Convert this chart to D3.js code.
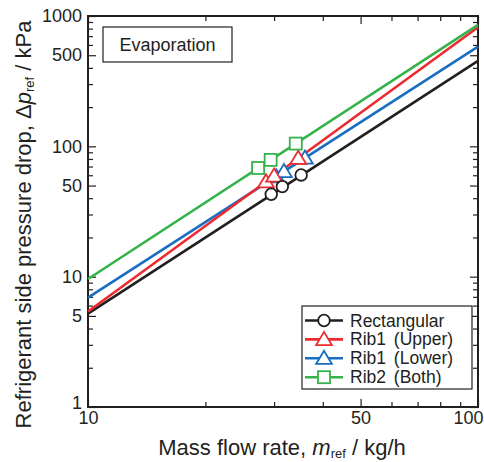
<!DOCTYPE html>
<html>
<head>
<meta charset="utf-8">
<script src="https://cdn.jsdelivr.net/npm/d3@7"></script>
<style>
  body { margin: 0; background: #fff; }
  svg text { font-family: "Liberation Sans", Arial, sans-serif; fill: #231f20; }
</style>
</head>
<body>
<div id="chart"></div>
<script>
// series names, colours and marker kinds
let seriesNames = ["Rectangular", "Rib1 (Upper)", "Rib1 (Lower)", "Rib2 (Both)"]
let seriesColors = ["#231f20", "#ec2a2f", "#1a6ec2", "#35b34a"]
let seriesMarkers = ["circle", "triangle", "triangle", "square"]

// fitted lines: pressure drop at 10 and 100 kg/h
let lineFlow = [10, 100]
let lineRect = [5.2, 452]
let lineUpper = [5.4, 820]
let lineLower = [6.9, 582]
let lineBoth = [9.6, 855]

// measured points
let flowRect = [29.5, 31.5, 35.2]
let dpRect = [42.9, 49.1, 60.3]
let flowUpper = [28.6, 30.0, 34.6]
let dpUpper = [53.5, 59.3, 81.1]
let flowLower = [30.4, 31.8, 36.0]
let dpLower = [58.5, 64.1, 81.3]
let flowBoth = [27.3, 29.4, 34.1]
let dpBoth = [68.2, 78.7, 105]

let xMajor = [10, 50, 100]
let xMinor = [20, 30, 40, 60, 70, 80, 90]
let yMajor = [1, 5, 10, 50, 100, 500, 1000]
let yMinor = [2, 3, 4, 6, 7, 8, 9, 20, 30, 40, 60, 70, 80, 90, 200, 300, 400, 600, 700, 800, 900]

let lines = [lineRect, lineUpper, lineLower, lineBoth]
let flows = [flowRect, flowUpper, flowLower, flowBoth]
let dps = [dpRect, dpUpper, dpLower, dpBoth]

let margin = {top: 16, right: 6, bottom: 55, left: 88}
let width = 484 - margin.left - margin.right
let height = 462 - margin.top - margin.bottom

let svg = d3.select("#chart").append("svg")
    .attr("width", 484)
    .attr("height", 462)
  .append("g")
    .attr("transform", `translate(${margin.left}, ${margin.top})`)

let x = d3.scaleLog().domain([10, 100]).range([0, width])
let y = d3.scaleLog().domain([1, 1000]).range([height, 0])

// inward ticks on all four sides
function ticks(axisFn, vals, size, labels, pad) {
    return axisFn.tickValues(vals).tickSize(-size).tickPadding(pad)
        .tickFormat(labels ? d3.format("d") : "")
}

let axes = [
    {g: "translate(0," + height + ")", a: d3.axisBottom(x), v: xMajor, s: 8, l: true, p: 4},
    {g: "translate(0," + height + ")", a: d3.axisBottom(x), v: xMinor, s: 5, l: false, p: 4},
    {g: "translate(0,0)", a: d3.axisTop(x), v: xMajor, s: 8, l: false, p: 4},
    {g: "translate(0,0)", a: d3.axisTop(x), v: xMinor, s: 5, l: false, p: 4},
    {g: "translate(0,0)", a: d3.axisLeft(y), v: yMajor, s: 8, l: true, p: 6},
    {g: "translate(0,0)", a: d3.axisLeft(y), v: yMinor, s: 5, l: false, p: 6},
    {g: "translate(" + width + ",0)", a: d3.axisRight(y), v: yMajor, s: 8, l: false, p: 6},
    {g: "translate(" + width + ",0)", a: d3.axisRight(y), v: yMinor, s: 5, l: false, p: 6}
]
axes.forEach((ax, i) => {
    let g = svg.append("g").attr("transform", ax.g).call(ticks(ax.a, ax.v, ax.s, ax.l, ax.p))
    g.select(".domain").remove()
    g.selectAll(".tick line").attr("stroke", "#231f20").attr("stroke-width", 1.2)
    g.selectAll(".tick text").style("font-size", "18px").attr("fill", "#231f20")
        .style("font-family", "'Liberation Sans', Arial, sans-serif")
    if (i === 0) {
        // last x label sits flush with the right edge
        g.selectAll(".tick text").filter(d => d === 100)
            .attr("text-anchor", "end").attr("x", 5)
    }
    if (i === 4) {
        // lift the "1" a little so it clears the "10" below
        g.selectAll(".tick text").filter(d => d === 1).attr("dy", "0.1em")
    }
})
svg.selectAll(".tick text").filter(function() { return this.textContent === "" }).remove()

// frame
svg.append("rect")
    .attr("width", width).attr("height", height)
    .attr("fill", "none").attr("stroke", "#231f20").attr("stroke-width", 2)

let line = d3.line().x(d => x(d[0])).y(d => y(d[1]))

function drawMarker(g, kind, cx, cy, color) {
    if (kind === "circle") {
        g.append("circle").attr("cx", cx).attr("cy", cy).attr("r", 5.8)
            .attr("fill", "#fff").attr("stroke", color).attr("stroke-width", 1.8)
    } else if (kind === "triangle") {
        let s = 7.5
        g.append("path")
            .attr("d", `M${cx},${cy - s}L${cx + s * 1.05},${cy + s * 0.75}L${cx - s * 1.05},${cy + s * 0.75}Z`)
            .attr("fill", "#fff").attr("stroke", color).attr("stroke-width", 1.8)
    } else {
        g.append("rect").attr("x", cx - 6).attr("y", cy - 6).attr("width", 12).attr("height", 12)
            .attr("fill", "#fff").attr("stroke", color).attr("stroke-width", 1.8)
    }
}

// fitted lines
let drawOrder = [0, 2, 1, 3]
drawOrder.forEach(i => {
    svg.append("path")
        .datum(lineFlow.map((f, j) => [f, lines[i][j]]))
        .attr("d", line)
        .attr("fill", "none")
        .attr("stroke", seriesColors[i])
        .attr("stroke-width", 2.6)
})

// measured points
let markerOrder = [2, 1, 0, 3]
markerOrder.forEach(i => {
    let g = svg.append("g")
    flows[i].forEach((f, j) => drawMarker(g, seriesMarkers[i], x(f), y(dps[i][j]), seriesColors[i]))
})

// Evaporation label
svg.append("rect")
    .attr("x", 15).attr("y", 11).attr("width", 129).attr("height", 35)
    .attr("fill", "#fff").attr("stroke", "#231f20").attr("stroke-width", 1.2)
svg.append("text")
    .attr("x", 79.5).attr("y", 35)
    .attr("text-anchor", "middle")
    .style("font-size", "18px")
    .text("Evaporation")

// legend
let lg = svg.append("g").attr("transform", "translate(214, 290)")
lg.append("rect")
    .attr("width", 170).attr("height", 83)
    .attr("fill", "#fff").attr("stroke", "#231f20").attr("stroke-width", 1.2)
seriesNames.forEach((name, i) => {
    let ry = 14.5 + i * 18.9
    lg.append("line")
        .attr("x1", 3).attr("x2", 41).attr("y1", ry).attr("y2", ry)
        .attr("stroke", seriesColors[i]).attr("stroke-width", 2.6)
    drawMarker(lg, seriesMarkers[i], 22, ry, seriesColors[i])
    lg.append("text")
        .attr("x", 48).attr("y", ry + 6)
        .style("font-size", "17.5px")
        .style("word-spacing", "3px")
        .text(name)
})

// axis titles
let xt = svg.append("text")
    .attr("x", 194).attr("y", 439)
    .attr("text-anchor", "middle")
    .style("font-size", "22px")
xt.append("tspan").text("Mass flow rate, ")
xt.append("tspan").style("font-style", "italic").text("m")
xt.append("tspan").style("font-size", "13px").attr("dy", 3).text("ref")
xt.append("tspan").attr("dy", -3).text(" / kg/h")

let yt = svg.append("text")
    .attr("transform", `translate(-57, ${height / 2 + 13}) rotate(-90)`)
    .attr("text-anchor", "middle")
    .style("font-size", "22px")
yt.append("tspan").text("Refrigerant side pressure drop, \u0394")
yt.append("tspan").style("font-style", "italic").text("p")
yt.append("tspan").style("font-size", "13px").attr("dy", 3).text("ref")
yt.append("tspan").attr("dy", -3).text(" / kPa")
</script>
</body>
</html>
